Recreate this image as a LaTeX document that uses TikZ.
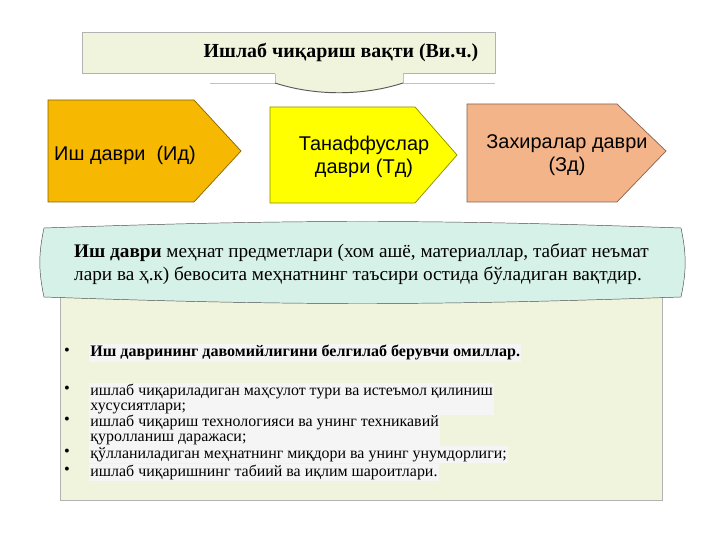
\documentclass[tikz,border=0pt]{standalone}
\usepackage{fontspec}
\setmainfont{Liberation Serif}
\newfontfamily\arialf{Liberation Sans}
\definecolor{beige}{HTML}{F1F4DC}
\definecolor{gold}{HTML}{F6B800}
\definecolor{lemon}{HTML}{FFFF00}
\definecolor{peach}{HTML}{F4B48A}
\definecolor{mint}{HTML}{D6F1E7}
\begin{document}
\begin{tikzpicture}[x=0.03cm,y=-0.03cm,
box/.style={draw=black!30,fill=beige},
arr/.style={fill=#1,draw=#1!55!black,line width=0.6pt},
lbl/.style={font=\arialf\fontsize{17}{20}\selectfont,align=center,inner sep=0pt},
itm/.style={anchor=north west,inner sep=1pt,fill=black!4,font=\fontsize{13.6}{12.2}\selectfont,align=left},
dot/.style={inner sep=0pt,font=\fontsize{14}{14}\selectfont}]
\useasboundingbox[fill=white](0,0)rectangle(720,540);
% title with tab
\draw[box](82,32)rectangle(495,73);
\path[fill=beige](275,72)--(275,83)..controls(315,96)and(363,96)..(403,83)--(403,72)--cycle;
\draw[red!35](210,83)--(275,83)--(275,74) (403,74)--(403,83)--(495,83);
\draw[black!65,line width=0.8pt](275,83)..controls(315,96)and(363,96)..(403,83);
\node[font=\bfseries\fontsize{17}{20}\selectfont](title)at(341,52){Ишлаб чиқариш вақти (Ви.ч.)};
% three periods
\draw[arr=gold](48,100)--(194,100)--(241,151)--(194,202)--(48,202)--cycle;
\draw[arr=lemon](270,107)--(415,107)--(457,155)--(415,203)--(270,203)--cycle;
\draw[arr=peach](467,104)--(617,104)--(666,151)--(617,202)--(467,202)--cycle;
\node[lbl](id)at(125,155){Иш даври~~(Ид)};
\node[lbl](td)at(364,157){Танаффуслар\\даври (Тд)};
\node[lbl](zd)at(567,155){Захиралар даври\\(Зд)};
% factors
\draw[draw=black!30,fill=beige](60,290)rectangle(662,500);
\draw[draw=black!70,fill=mint](44,228)to[bend left=2](681,228)to[bend left=12](681,297)to[bend left=2](44,297)to[bend left=12]cycle;
\node[anchor=west,align=left,inner sep=0pt,font=\fontsize{16.4}{19.5}\selectfont](def)at(74,264)
{\textbf{Иш даври} меҳнат предметлари (хом ашё, материаллар, табиат неъмат\\лари ва ҳ.к) бевосита меҳнатнинг таъсири остида бўладиган вақтдир.};
\node[itm,font=\bfseries\fontsize{13.7}{12}\selectfont](h)at(89,344){Иш даврининг давомийлигини белгилаб берувчи омиллар.};
\node[itm](f1)at(89,383){ишлаб чиқариладиган маҳсулот тури ва истеъмол қилиниш\\хусусиятлари;};
\node[itm](f2)at(89,414){ишлаб чиқариш технологияси ва унинг техникавий\\қуролланиш даражаси;};
\node[itm](f3)at(89,446){қўлланиладиган меҳнатнинг миқдори ва унинг унумдорлиги;};
\node[itm](f4)at(89,464){ишлаб чиқаришнинг табиий ва иқлим шароитлари.};
\node[dot](d0)at(67,352){•};
\node[dot](d1)at(67,390){•};
\node[dot](d2)at(67,421){•};
\node[dot](d3)at(67,453){•};
\node[dot](d4)at(67,471){•};
\end{tikzpicture}
\end{document}
